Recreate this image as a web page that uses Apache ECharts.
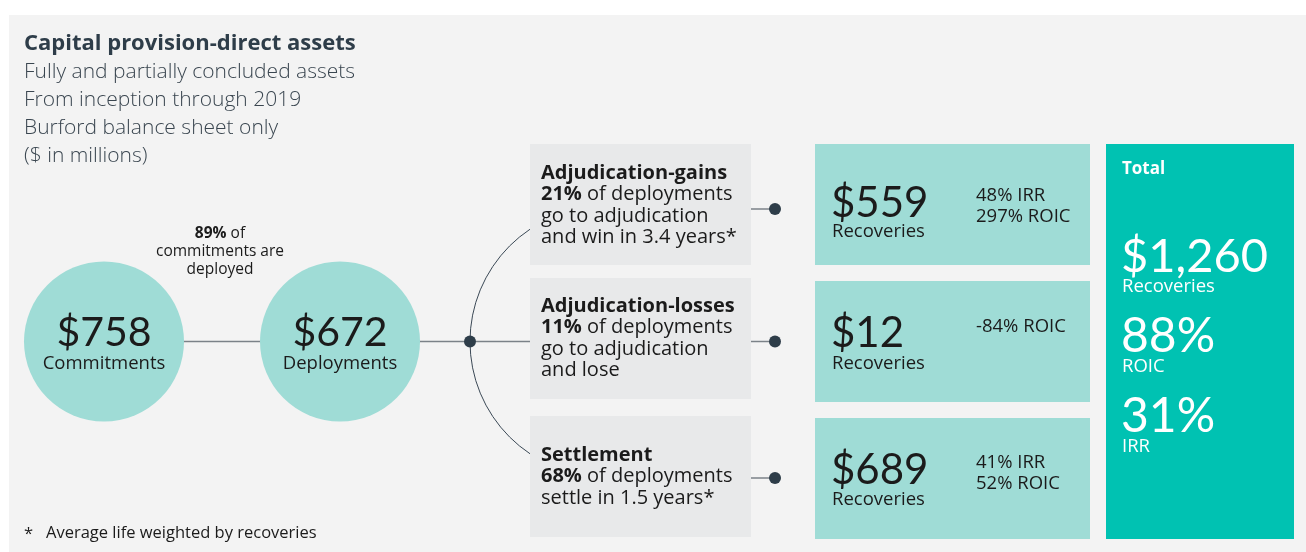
<!DOCTYPE html>
<html>
<head>
<meta charset="utf-8">
<script src="https://cdn.jsdelivr.net/npm/echarts@6/dist/echarts.min.js"></script>
<style>
html,body{margin:0;padding:0;background:#fff;}
#c{width:1306px;height:552px;}
</style>
</head>
<body>
<div id="c"></div>
<script>
// ---- data ----
const titleText = 'Capital provision-direct assets';
const subtitleLines = ['Fully and partially concluded assets', 'From inception through 2019', 'Burford balance sheet only', '($ in millions)'];
const stageLabels = ['Commitments', 'Deployments'];
const stageValues = [758, 672];
const deployedPct = 89;
const outcomeNames = ['Adjudication-gains', 'Adjudication-losses', 'Settlement'];
const outcomeShares = [21, 11, 68];
const outcomeDesc = [
  ['of deployments', 'go to adjudication', 'and win in 3.4 years*'],
  ['of deployments', 'go to adjudication', 'and lose'],
  ['of deployments', 'settle in 1.5 years*']
];
const outcomeRecoveries = [559, 12, 689];
const outcomeIrr = [48, null, 41];
const outcomeRoic = [297, -84, 52];
const totalRecoveries = 1260;
const totalRoic = 88;
const totalIrr = 31;
const footnote = 'Average life weighted by recoveries';

// ---- style / layout ----
const FONT = '"Open Sans", Lato, sans-serif';
const NFONT = 'Lato, "Open Sans", sans-serif';
const C_BG = '#f3f3f3', C_GRAY = '#e8e9ea', C_TEAL_L = '#9fdcd6', C_TEAL = '#00c2b2';
const C_DARK = '#2e3d49', C_TXT = '#1b1b1b', C_LINE = '#7b8288';

const chart = echarts.init(document.getElementById('c'), null, {renderer: 'canvas'});
const g = [];
function txt(x, y, s, size, opts) {
  opts = opts || {};
  g.push({type: 'text', x: x, y: y, z: 10, style: Object.assign({
    text: s, fill: opts.fill || C_TXT, font: (opts.weight || 'normal') + ' ' + size + 'px ' + (opts.family || FONT),
    align: opts.align || 'left', verticalAlign: 'middle'
  }, opts.extra || {})});
}
function richTxt(x, y, bold, rest, size, align) {
  g.push({type: 'text', x: x, y: y, z: 10, style: {
    text: '{b|' + bold + '} ' + rest, font: size + 'px ' + FONT, fill: C_TXT, align: align, verticalAlign: 'middle',
    rich: {b: {fontWeight: 'bold', fontSize: size, fontFamily: FONT, fill: C_TXT}}
  }});
}
const money = v => '$' + v.toLocaleString('en-US');

// background panel
g.push({type: 'rect', shape: {x: 9, y: 15, width: 1297, height: 537}, style: {fill: C_BG}, z: 0});

// title block
txt(24, 44, titleText, 22, {fill: C_DARK, weight: 'bold'});
subtitleLines.forEach((s, i) => txt(24, 72 + i * 28, s, 21, {fill: '#3a4650', weight: '300'}));

// stage circles
const circCx = [104, 340], circCy = 341.5, circR = 80;
g.push({type: 'line', shape: {x1: circCx[0], y1: circCy, x2: 530, y2: circCy}, style: {stroke: C_LINE, lineWidth: 1.5}, z: 1});
stageValues.forEach((v, i) => {
  g.push({type: 'circle', shape: {cx: circCx[i], cy: circCy, r: circR}, style: {fill: C_TEAL_L}, z: 2});
  txt(circCx[i], 333, money(v), 41, {align: 'center', family: NFONT});
  txt(circCx[i], 364, stageLabels[i], 18.5, {align: 'center'});
});
// deployed note
richTxt(220, 234, deployedPct + '%', 'of', 15.5, 'center');
txt(220, 252, 'commitments are', 15.5, {align: 'center'});
txt(220, 270, 'deployed', 15.5, {align: 'center'});

// branch arc + dot
g.push({type: 'arc', shape: {cx: 605, cy: circCy, r: 135, startAngle: Math.PI - Math.acos(75 / 135), endAngle: Math.PI + Math.acos(75 / 135), clockwise: true},
  style: {stroke: '#3b4956', lineWidth: 1, fill: null}, z: 1});
g.push({type: 'circle', shape: {cx: 470, cy: circCy, r: 6}, style: {fill: C_DARK}, z: 3});

// outcome boxes
const boxY = [144, 278, 416], boxH = 121;
const rightDotY = [209, 341.5, 478];
const lineStart = [173, 306, 455];
const recBoxY = [144, 281, 418];
const recNumY = [203, 333, 470];
const recLblY = [232, 364, 500];
const recStatY = [196, 327, 463];
outcomeNames.forEach((name, i) => {
  g.push({type: 'rect', shape: {x: 530, y: boxY[i], width: 221, height: boxH}, style: {fill: C_GRAY}, z: 2});
  const y0 = lineStart[i];
  txt(541, y0, name, 20, {weight: 'bold'});
  richTxt(541, y0 + 21.5, outcomeShares[i] + '%', outcomeDesc[i][0], 20, 'left');
  outcomeDesc[i].slice(1).forEach((s, k) => txt(541, y0 + 21.5 * (k + 2), s, 20));
  // connector
  g.push({type: 'line', shape: {x1: 751, y1: rightDotY[i], x2: 775, y2: rightDotY[i]}, style: {stroke: C_LINE, lineWidth: 1.5}, z: 1});
  g.push({type: 'circle', shape: {cx: 775, cy: rightDotY[i], r: 6}, style: {fill: C_DARK}, z: 3});
  // recovery box
  const ry = recBoxY[i];
  g.push({type: 'rect', shape: {x: 815, y: ry, width: 275, height: 121}, style: {fill: C_TEAL_L}, z: 2});
  txt(831, recNumY[i], money(outcomeRecoveries[i]), 42, {family: NFONT});
  txt(832, recLblY[i], 'Recoveries', 18.5);
  const stats = [];
  if (outcomeIrr[i] !== null) stats.push(outcomeIrr[i] + '% IRR');
  stats.push(outcomeRoic[i] + '% ROIC');
  stats.forEach((s, k) => txt(976, recStatY[i] + k * 21, s, 18.5));
});

// total box
g.push({type: 'rect', shape: {x: 1106, y: 144, width: 188, height: 395}, style: {fill: C_TEAL}, z: 2});
txt(1122, 169, 'Total', 17, {fill: '#fff', weight: 'bold'});
txt(1121, 257, money(totalRecoveries), 47, {fill: '#fff', family: NFONT});
txt(1122, 287, 'Recoveries', 18.5, {fill: '#fff'});
txt(1121, 337, totalRoic + '%', 48, {fill: '#fff', family: NFONT});
txt(1122, 367, 'ROIC', 18.5, {fill: '#fff'});
txt(1121, 417, totalIrr + '%', 48, {fill: '#fff', family: NFONT});
txt(1122, 447, 'IRR', 18.5, {fill: '#fff'});

// footnote
txt(24, 534, '*', 16.5);
txt(46, 533, footnote, 16.5);

chart.setOption({animation: false, graphic: {elements: g}});
</script>
</body>
</html>
